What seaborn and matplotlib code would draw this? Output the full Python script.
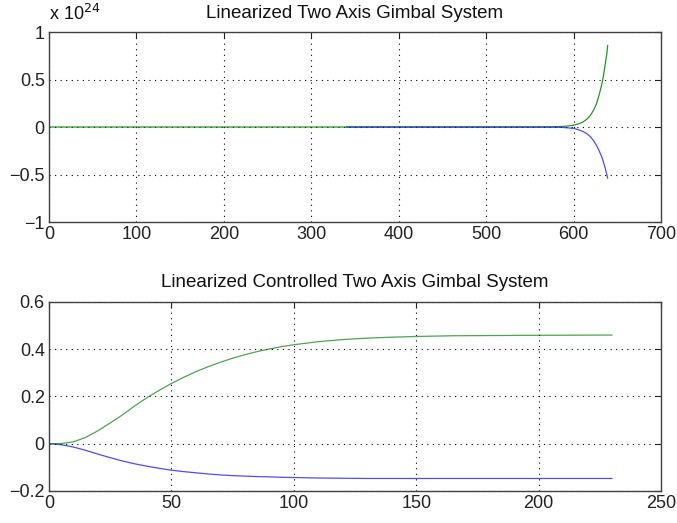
import matplotlib
matplotlib.use("Agg")
import matplotlib.pyplot as plt
import seaborn as sns
import pandas as pd

# Uncontrolled linearized response (values in units of 1e24)
top_t_green = [0, 340, 560, 580, 588, 595, 601, 606, 611, 615, 619, 623, 626, 629,
               632, 634, 636, 638, 639]
top_green = [0, 0, 0, 0.003, 0.006, 0.012, 0.021, 0.034, 0.055, 0.081, 0.12, 0.18, 0.24,
             0.33, 0.44, 0.53, 0.65, 0.77, 0.86]
top_t_blue = [340, 560, 580, 588, 595, 601, 606, 611, 615, 619, 623, 626, 629, 632, 634,
              636, 638, 639]
top_blue = [0, 0, -0.002, -0.005, -0.01, -0.017, -0.03, -0.049, -0.07, -0.10, -0.145, -0.19,
            -0.245, -0.31, -0.364, -0.427, -0.50, -0.54]

# Controlled linearized response
bot_t = [0, 5, 10, 15, 20, 25, 30, 35, 40, 45, 50, 55, 60, 65, 70, 75, 80, 85, 90, 95, 100,
         110, 120, 130, 140, 150, 165, 180, 200, 230]
bot_green = [0, 0.001, 0.008, 0.027, 0.055, 0.088, 0.122, 0.16, 0.195, 0.226, 0.255, 0.281,
             0.305, 0.326, 0.345, 0.362, 0.377, 0.39, 0.401, 0.411, 0.419,
             0.432, 0.441, 0.447, 0.451, 0.454, 0.457, 0.458, 0.459, 0.46]
bot_blue = [0, -0.004, -0.014, -0.028, -0.044, -0.059, -0.073, -0.085, -0.095, -0.104, -0.112,
            -0.118, -0.123, -0.128, -0.132, -0.135, -0.137, -0.139, -0.140, -0.142, -0.143,
            -0.145, -0.146, -0.147, -0.147, -0.147, -0.147, -0.147, -0.147, -0.147]

top_xticks = [0, 100, 200, 300, 400, 500, 600, 700]
top_yticks = [-1, -0.5, 0, 0.5, 1]
top_ylabels = ["\u22121", "\u22120.5", "0", "0.5", "1"]
bot_xticks = [0, 50, 100, 150, 200, 250]
bot_yticks = [-0.2, 0, 0.2, 0.4, 0.6]
bot_ylabels = ["\u22120.2", "0", "0.2", "0.4", "0.6"]

sns.set_style("white")
plt.rcParams["font.family"] = ["Liberation Sans", "DejaVu Sans"]

GREEN = (0.0, 0.5, 0.0)
BLUE = (0.0, 0.0, 1.0)

fig = plt.figure(figsize=(6.77, 5.23), dpi=100)
ax1 = fig.add_axes([0.0724, 0.5755, 0.904, 0.3633])
ax2 = fig.add_axes([0.0724, 0.0612, 0.904, 0.3614])

df_tg = pd.DataFrame({"t": top_t_green, "y": top_green})
df_tb = pd.DataFrame({"t": top_t_blue, "y": top_blue})
sns.lineplot(data=df_tg, x="t", y="y", ax=ax1, color=GREEN, lw=0.9, sort=False,
             estimator=None, alpha=0.85)
sns.lineplot(data=df_tb, x="t", y="y", ax=ax1, color=BLUE, lw=0.9, sort=False,
             estimator=None, alpha=0.7)

df_b = pd.DataFrame({"t": bot_t, "g": bot_green, "b": bot_blue})
sns.lineplot(data=df_b, x="t", y="b", ax=ax2, color=BLUE, lw=0.9, sort=False,
             estimator=None, alpha=0.7)
sns.lineplot(data=df_b, x="t", y="g", ax=ax2, color=GREEN, lw=0.9, sort=False,
             estimator=None, alpha=0.7)


def style(ax, xlim, ylim, xt, yt, ylab, title, pad):
    ax.set_xlim(*xlim)
    ax.set_ylim(*ylim)
    ax.set_xticks(xt)
    ax.set_xticklabels([str(v) for v in xt])
    ax.set_yticks(yt)
    ax.set_yticklabels(ylab)
    ax.set_xlabel("")
    ax.set_ylabel("")
    ax.grid(True, color="black", linestyle=(0, (1, 4)), lw=0.8)
    ax.tick_params(direction="in", length=4, width=0.8, top=True, right=True,
                   labelsize=13, colors="#222222", pad=3)
    for s in ax.spines.values():
        s.set_color("#404040")
        s.set_linewidth(1.0)
        s.set_visible(True)
    ax.set_title(title, fontsize=13.5, pad=pad, color="#111111")


style(ax1, (0, 700), (-1, 1), top_xticks, top_yticks, top_ylabels,
      "Linearized Two Axis Gimbal System", 10)
style(ax2, (0, 250), (-0.2, 0.6), bot_xticks, bot_yticks, bot_ylabels,
      "Linearized Controlled Two Axis Gimbal System", 11)

ax1.text(0.0, 1.04, "x 10$^{24}$", transform=ax1.transAxes, ha="left", va="bottom",
         fontsize=13, color="#111111")

fig.savefig("out.png", dpi=100)
